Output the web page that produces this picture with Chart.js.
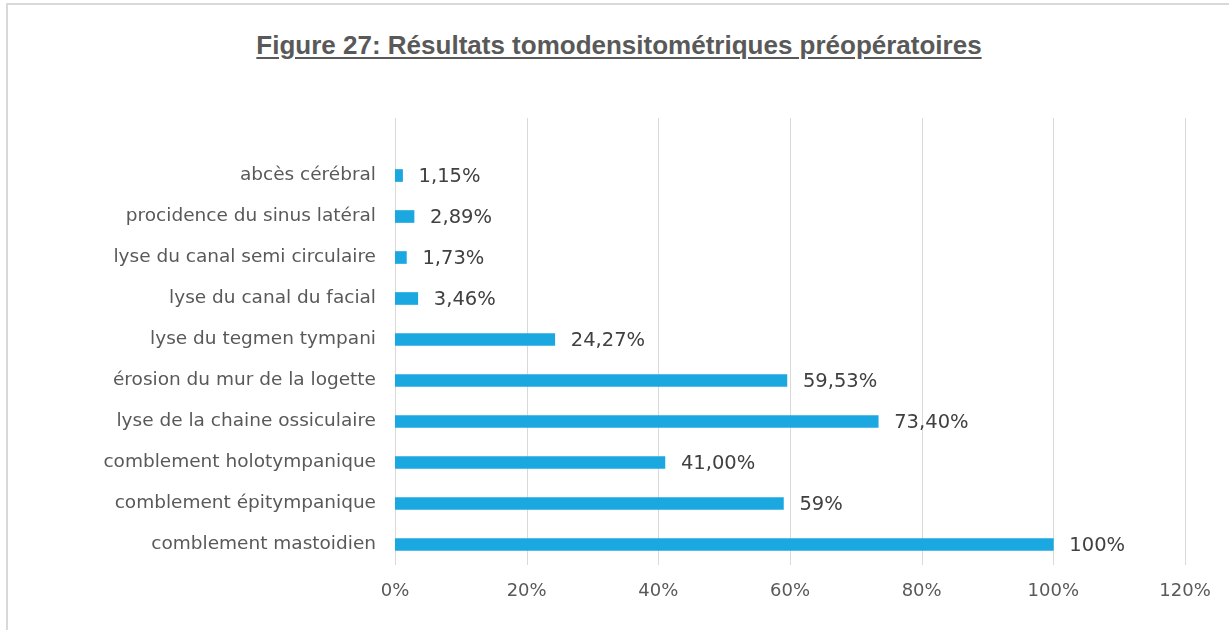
<!DOCTYPE html>
<html>
<head>
<meta charset="utf-8">
<script src="https://cdn.jsdelivr.net/npm/chart.js@4"></script>
<style>
  html, body { margin: 0; padding: 0; width: 1229px; height: 630px; overflow: hidden; background: #fff; }
  #frame { position: absolute; left: 6px; top: 3px; width: 1240px; height: 650px; border: 2px solid #d9d9d9; box-sizing: border-box; }
  #titre { position: absolute; left: 0; top: 30px; width: 1238px; text-align: center;
    font-family: "Liberation Sans", Arial, sans-serif; font-weight: bold; font-size: 26px;
    color: #595959; text-decoration: underline; text-underline-offset: 3px; }
  #wrap { position: absolute; left: 0; top: 0; width: 1229px; height: 630px; }
</style>
</head>
<body>
<div id="frame"></div>
<div id="titre">Figure 27: Résultats tomodensitométriques préopératoires</div>
<div id="wrap"><canvas id="bar-chart"></canvas></div>
<script>
var categories = ["abcès cérébral", "procidence du sinus latéral", "lyse du canal semi circulaire",
  "lyse du canal du facial", "lyse du tegmen tympani", "érosion du mur de la logette",
  "lyse de la chaine ossiculaire", "comblement holotympanique", "comblement épitympanique",
  "comblement mastoidien"];
var valeurs = [1.15, 2.89, 1.73, 3.46, 24.27, 59.53, 73.40, 41.00, 59, 100];
var etiquettes = ["1,15%", "2,89%", "1,73%", "3,46%", "24,27%", "59,53%", "73,40%", "41,00%", "59%", "100%"];
var ticksX = [0, 20, 40, 60, 80, 100, 120];

// grilles verticales qui montent au-dessus de la zone des barres
var grille = {
  id: 'grille',
  beforeDatasetsDraw: function(chart) {
    var ctx = chart.ctx, x = chart.scales.x, area = chart.chartArea;
    ctx.save();
    ctx.strokeStyle = '#d9d9d9';
    ctx.lineWidth = 1;
    ticksX.forEach(function(t) {
      var px = Math.round(x.getPixelForValue(t)) + 0.5;
      ctx.beginPath();
      ctx.moveTo(px, 118);
      ctx.lineTo(px, area.bottom);
      ctx.stroke();
    });
    ctx.restore();
  }
};

var valeursTexte = {
  id: 'valeursTexte',
  afterDatasetsDraw: function(chart) {
    var ctx = chart.ctx;
    ctx.save();
    ctx.font = '19.5px "DejaVu Sans"';
    ctx.fillStyle = '#404040';
    ctx.textBaseline = 'middle';
    chart.getDatasetMeta(0).data.forEach(function(bar, i) {
      ctx.fillText(etiquettes[i], bar.x + 16, bar.y + 1);
    });
    ctx.restore();
  }
};

new Chart(document.getElementById("bar-chart"), {
  type: 'bar',
  data: {
    labels: categories,
    datasets: [{
      data: valeurs,
      backgroundColor: '#1ba8e0',
      barThickness: 12
    }]
  },
  options: {
    indexAxis: 'y',
    responsive: true,
    maintainAspectRatio: false,
    animation: false,
    layout: { padding: { top: 155, right: 44, left: 0, bottom: 0 } },
    plugins: {
      legend: { display: false },
      tooltip: { enabled: false }
    },
    scales: {
      x: {
        min: 0,
        max: 120,
        grid: { display: false },
        border: { display: false },
        afterFit: function(s) { s.height = 65; },
        afterBuildTicks: function(s) { s.ticks = ticksX.map(function(v) { return { value: v }; }); },
        ticks: {
          padding: 8,
          color: '#595959',
          font: { family: 'DejaVu Sans', size: 18 },
          callback: function(v) { return v + '%'; }
        }
      },
      y: {
        grid: { display: false },
        border: { display: false },
        afterFit: function(s) { s.width = 395; },
        ticks: {
          padding: 11,
          color: '#595959',
          font: { family: 'DejaVu Sans', size: 18.5 }
        }
      }
    }
  },
  plugins: [grille, valeursTexte]
});
</script>
</body>
</html>
